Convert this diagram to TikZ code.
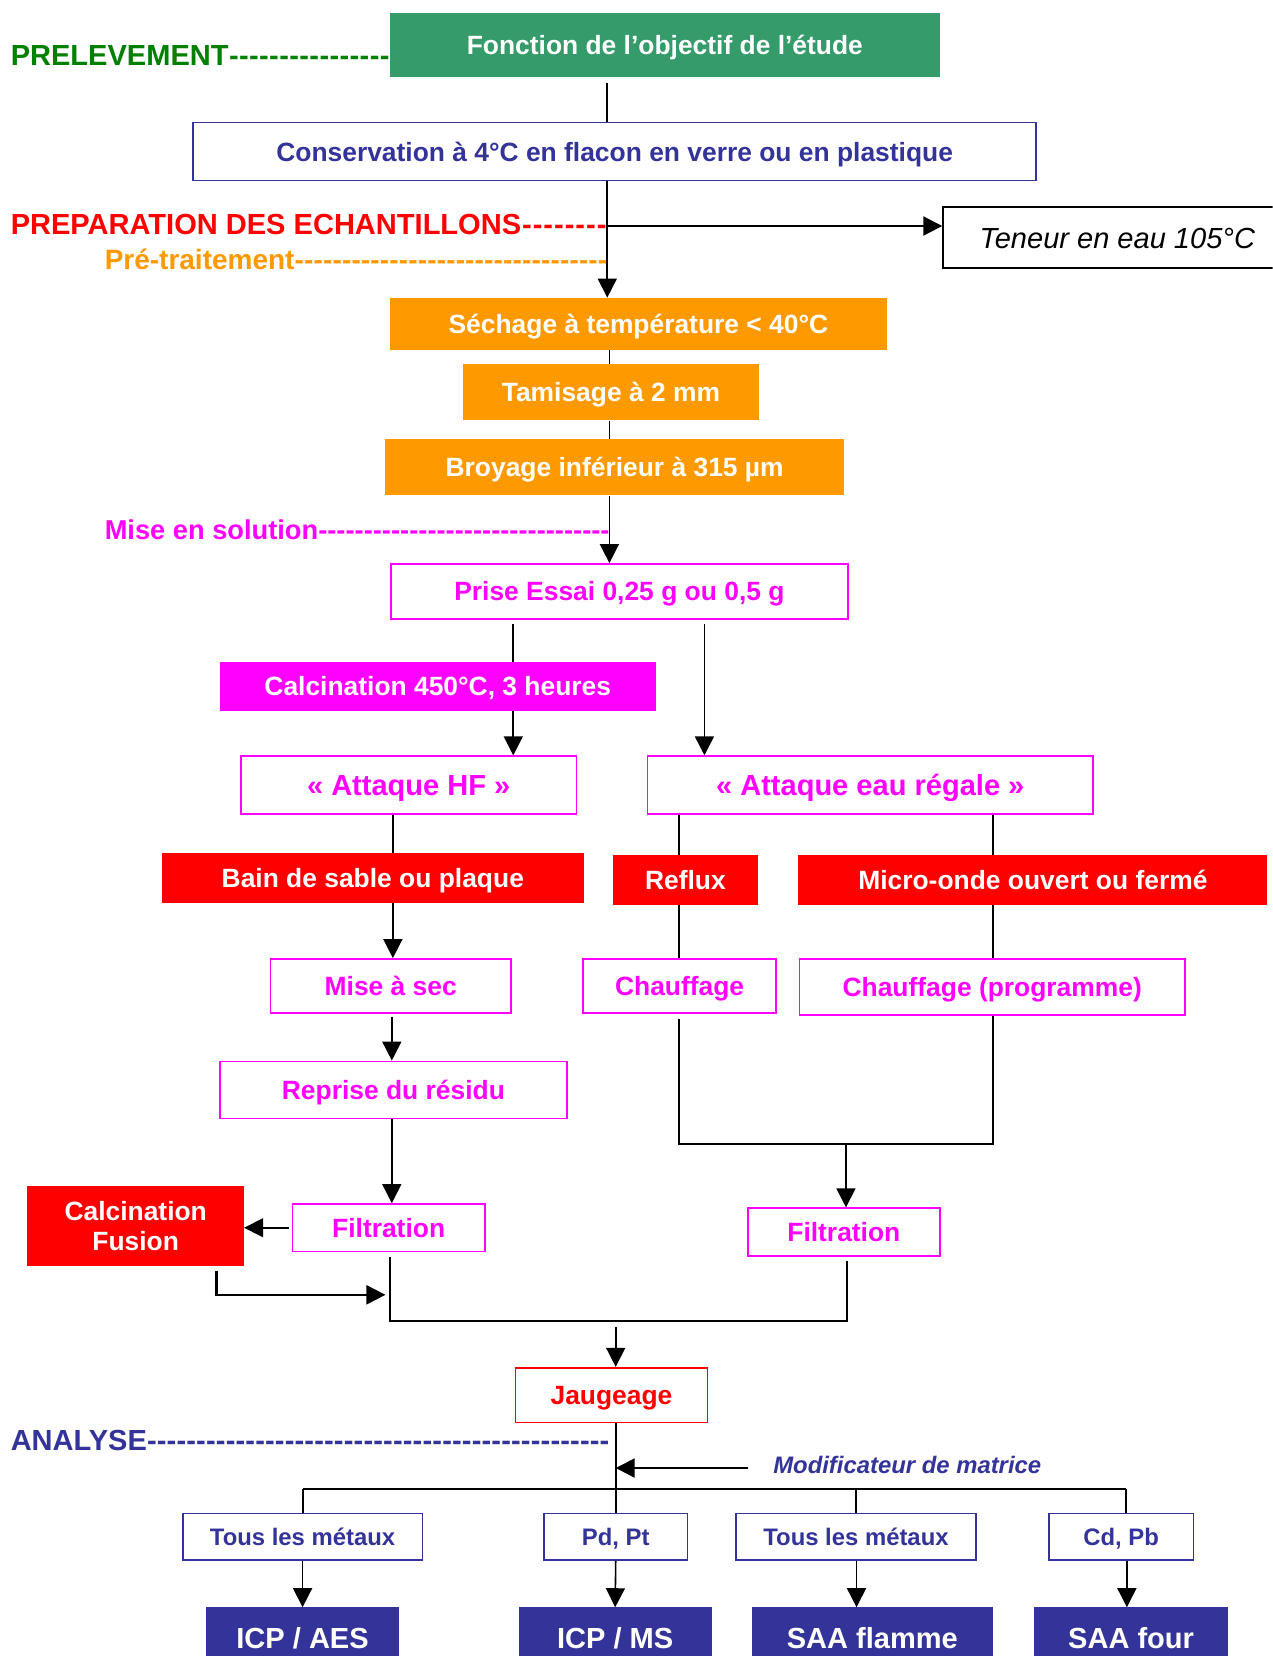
\documentclass[tikz,border=0pt]{standalone}
\usepackage{fontspec}
\setmainfont{Liberation Sans}
\usetikzlibrary{arrows.meta}
\definecolor{gbox}{RGB}{54,155,106}
\definecolor{glab}{RGB}{0,128,0}
\definecolor{dblue}{RGB}{51,51,153}
\definecolor{orng}{RGB}{255,153,0}
\definecolor{mag}{RGB}{255,0,255}
\definecolor{rd}{RGB}{255,0,0}
\newcommand{\dashlabel}[2]{\makebox[#1][l]{#2\xleaders\hbox{-}\hfill}}
\begin{document}
\begin{tikzpicture}[x=1pt,y=-1pt,
  bx/.style={rectangle, inner sep=0pt, font=\bfseries\fontsize{25}{29}\selectfont, align=center},
  box/.style={bx, text height=18pt, text depth=0pt},
  fillbox/.style={box, fill=#1, text=white},
  linebox/.style={box, draw=#1, text=#1, line width=1.6pt, fill=white},
  lab/.style={anchor=west, inner sep=0pt, font=\bfseries\fontsize{27.5}{30}\selectfont},
  big/.style={font=\bfseries\fontsize{27.5}{30}\selectfont, text height=19.7pt},
  small/.style={font=\bfseries\fontsize{22.6}{26}\selectfont, text height=16.2pt},
  ln/.style={line width=1.5pt},
  tk/.style={line width=2pt},
  tip/.style={-{Triangle[length=18pt,width=18pt]}},
  arr/.style={ln, tip},
]
\useasboundingbox (0,0) rectangle (1205,1568);
\clip (0,0) rectangle (1205,1568);

% ---------- boxes ----------
\node[fillbox=gbox, minimum width=521pt, minimum height=61pt] (obj) at (629.5,42.5) {Fonction de l’objectif de l’étude};
\node[linebox=dblue, minimum width=798pt, minimum height=55pt] (cons) at (582,143.5) {Conservation à 4°C en flacon en verre ou en plastique};
\node[box, draw=black, line width=1.6pt, minimum width=330pt, minimum height=58pt, font=\itshape\fontsize{27.5}{30}\selectfont, text height=19.7pt] (ten) at (1058,225) {Teneur en eau 105°C};
\node[fillbox=orng, minimum width=471pt, minimum height=49pt] (sech) at (604.5,306.5) {Séchage à température < 40°C};
\node[fillbox=orng, minimum width=281pt, minimum height=53pt] (tam) at (578.5,371.5) {Tamisage à 2 mm};
\node[fillbox=orng, minimum width=434pt, minimum height=53pt] (broy) at (582,442.5) {Broyage inférieur à 315 µm};
\node[linebox=mag, minimum width=433pt, minimum height=52pt] (prise) at (586.5,560) {Prise Essai 0,25 g ou 0,5 g};
\node[fillbox=mag, minimum width=413pt, minimum height=46pt] (calc) at (414.5,650) {Calcination 450°C, 3 heures};
\node[linebox=mag, big, minimum width=318pt, minimum height=55pt] (hf) at (387,743.5) {« Attaque HF »};
\node[linebox=mag, big, minimum width=422pt, minimum height=55pt] (er) at (824,743.5) {« Attaque eau régale »};
\node[fillbox=rd, minimum width=400pt, minimum height=47pt] (bain) at (353,831.5) {Bain de sable ou plaque};
\node[fillbox=rd, minimum width=138pt, minimum height=47pt] (reflux) at (649,833.5) {Reflux};
\node[fillbox=rd, minimum width=444pt, minimum height=47pt] (micro) at (978,833.5) {Micro-onde ouvert ou fermé};
\node[linebox=mag, minimum width=228pt, minimum height=51pt] (sec) at (370,933.5) {Mise à sec};
\node[linebox=mag, minimum width=183pt, minimum height=51pt] (ch) at (643.5,933.5) {Chauffage};
\node[linebox=mag, minimum width=365pt, minimum height=53pt] (chp) at (939.5,934.5) {Chauffage (programme)};
\node[linebox=mag, minimum width=329pt, minimum height=54pt] (rep) at (372.5,1032) {Reprise du résidu};
\node[linebox=mag, minimum width=182pt, minimum height=45pt] (f1) at (368,1162.5) {Filtration};
\node[linebox=mag, minimum width=182pt, minimum height=45pt] (f2) at (799,1166.5) {Filtration};
\node[bx, fill=rd, text=white, minimum width=205pt, minimum height=76pt] (cf) at (128.5,1161) {Calcination\\Fusion};
\node[linebox=rd, minimum width=182pt, minimum height=52pt] (jau) at (579,1321) {Jaugeage};
\node[linebox=dblue, small, minimum width=227pt, minimum height=44pt] (t1) at (286.5,1455) {Tous les métaux};
\node[linebox=dblue, small, minimum width=136pt, minimum height=44pt] (pd) at (583,1455) {Pd, Pt};
\node[linebox=dblue, small, minimum width=227pt, minimum height=44pt] (t2) at (810.5,1455) {Tous les métaux};
\node[linebox=dblue, small, minimum width=137pt, minimum height=44pt] (cd) at (1061.5,1455) {Cd, Pb};
\node[fillbox=dblue, big, minimum width=183pt, minimum height=58pt] (aes) at (286.5,1551) {ICP / AES};
\node[fillbox=dblue, big, minimum width=183pt, minimum height=58pt] (icpms) at (582.5,1551) {ICP / MS};
\node[fillbox=dblue, big, minimum width=228pt, minimum height=58pt] (flam) at (826,1551) {SAA flamme};
\node[fillbox=dblue, big, minimum width=184pt, minimum height=58pt] (four) at (1071,1551) {SAA four};

% ---------- section labels ----------
\node[lab, text=glab] (lprel) at (10,53) {\dashlabel{359pt}{PRELEVEMENT}};
\node[lab, text=rd] (lprep) at (10,213) {\dashlabel{565pt}{PREPARATION DES ECHANTILLONS}};
\node[lab, text=orng, font=\bfseries\fontsize{26.5}{30}\selectfont] (lpre) at (99,246) {\dashlabel{476pt}{Pré-traitement}};
\node[lab, text=mag, font=\bfseries\fontsize{25.8}{30}\selectfont] (lsol) at (99,502) {\dashlabel{478pt}{Mise en solution}};
\node[lab, text=dblue] (lana) at (10,1364) {\dashlabel{567pt}{ANALYSE}};
\node[anchor=west, inner sep=0pt, text=dblue, font=\bfseries\itshape\fontsize{22.6}{26}\selectfont] (modif) at (732,1387) {Modificateur de matrice};

% ---------- connectors ----------
\coordinate (xa) at (575,0);
\draw[ln] ([yshift=-5pt]obj.south -| xa) -- (cons.north -| xa);
\draw[arr] (cons.south -| xa) -- (sech.north -| xa);
\coordinate (tj) at (575,214);
\draw[tk, tip] (tj) -- (tj -| ten.west);

\coordinate (xb) at (577,0);
\draw[ln] (sech.south -| xb) -- (tam.north -| xb);
\draw[ln] (tam.south -| xb) -- (broy.north -| xb);
\draw[arr] (broy.south -| xb) -- (prise.north -| xb);

\coordinate (xc) at (486,0);
\draw[ln] ([yshift=-4pt]prise.south -| xc) -- (calc.north -| xc);
\draw[arr] (calc.south -| xc) -- (hf.north -| xc);
\coordinate (xd) at (667,0);
\draw[arr] ([yshift=-4pt]prise.south -| xd) -- (er.north -| xd);

\coordinate (xe) at (372,0);
\draw[ln] (hf.south -| xe) -- (bain.north -| xe);
\draw[arr] (bain.south -| xe) -- (sec.north -| xe);
\coordinate (xf) at (643,0);
\draw[ln] (er.south -| xf) -- (reflux.north -| xf);
\draw[ln] (reflux.south -| xf) -- (ch.north -| xf);
\coordinate (xg) at (940,0);
\draw[ln] (er.south -| xg) -- (micro.north -| xg);
\draw[ln] (micro.south -| xg) -- (chp.north -| xg);

\coordinate (xh) at (371,0);
\draw[arr] ([yshift=-3pt]sec.south -| xh) -- (rep.north -| xh);
\draw[arr] (rep.south -| xh) -- (f1.north -| xh);

\coordinate (j1) at (643,1083);
\draw[tk] ([yshift=-5pt]ch.south -| j1) -- (j1) -- (j1 -| xg) -- (chp.south -| xg);
\coordinate (xi) at (801,0);
\draw[arr] (j1 -| xi) -- (f2.north -| xi);

\draw[arr] ([xshift=-3pt]f1.west) -- (f1.west -| cf.east);
\coordinate (k1) at (205,1226);
\coordinate (k2) at (365,1226);
\draw[tk, tip] ([yshift=-4pt]cf.south -| k1) -- (k1) -- (k2);

\coordinate (m1) at (369,1251);
\coordinate (m2) at (802,1251);
\draw[tk] ([yshift=-4pt]f1.south -| m1) -- (m1) -- (m2) -- ([yshift=-4pt]f2.south -| m2);
\coordinate (xj) at (583,0);
\draw[arr] ([yshift=-5pt]m1 -| xj) -- (jau.north -| xj);
\draw[ln] (jau.south -| xj) -- (pd.north -| xj);
\coordinate (mo) at (708,1390);
\draw[tk, tip] (mo) -- (mo -| xj);

\coordinate (b1) at (287,1410);
\coordinate (b2) at (1066,1410);
\draw[tk] (b1) -- (b2);
\draw[ln] (b1) -- (t1.north -| b1);
\draw[ln] (b1 -| t2.north) -- (t2.north);
\draw[ln] (b2) -- (cd.north -| b2);

\coordinate (xk) at (811,0);
\coordinate (xl) at (1067,0);
\draw[arr] (t1.south) -- (aes.north);
\draw[arr] (pd.south) -- (icpms.north);
\draw[arr] (t2.south -| xk) -- (flam.north -| xk);
\draw[arr] (cd.south -| xl) -- (four.north -| xl);
\end{tikzpicture}
\end{document}
